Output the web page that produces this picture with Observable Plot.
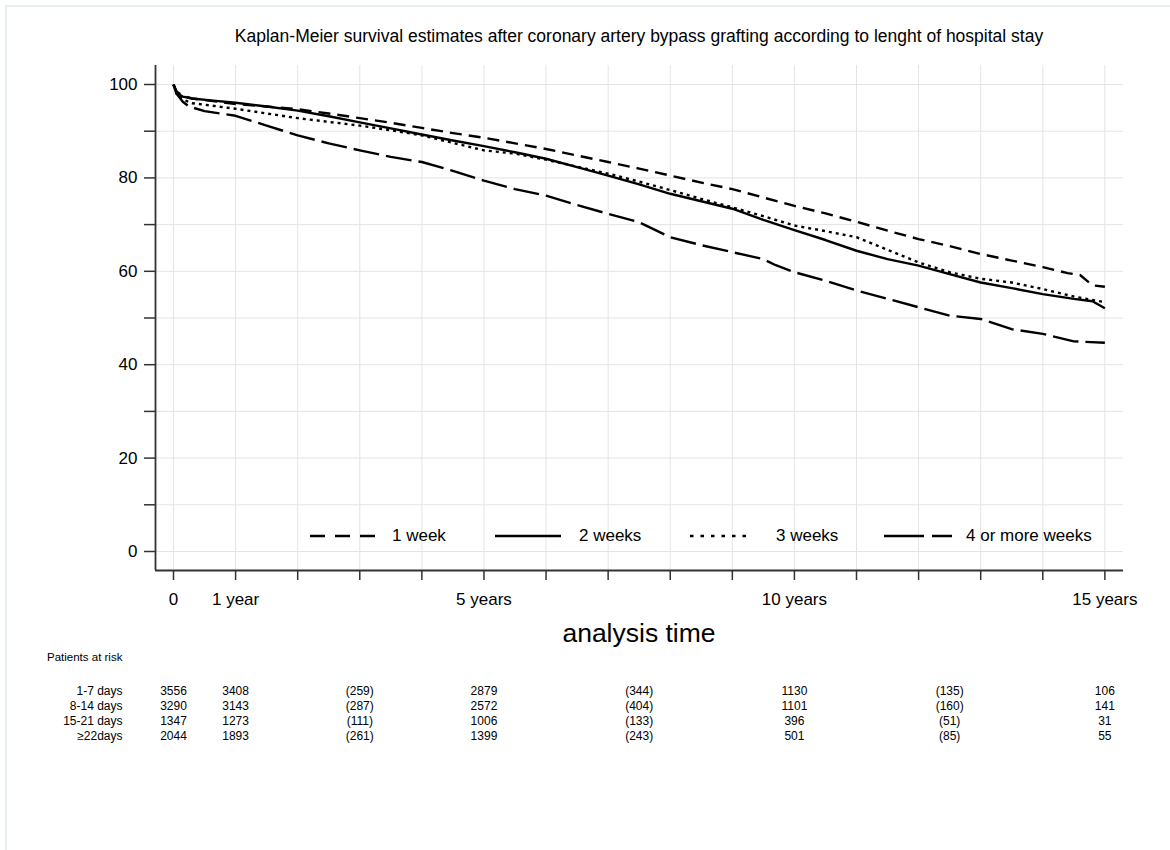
<!DOCTYPE html>
<html>
<head>
<meta charset="utf-8">
<script src="https://cdn.jsdelivr.net/npm/d3@7"></script>
<script src="https://cdn.jsdelivr.net/npm/@observablehq/plot@0.6"></script>
<style>
  body { margin: 0; background: #fff; font-family: "Liberation Sans", Arial, sans-serif; color: #000; }
  #page { position: relative; width: 1170px; height: 850px; overflow: hidden; }
  #border { position: absolute; left: 5px; top: 5px; width: 1200px; height: 900px; border-left: 2px solid #e6eef0; border-top: 2px solid #e6eef0; }
  .abs { position: absolute; white-space: nowrap; }
</style>
</head>
<body>
<div id="page">
  <div id="border"></div>
</div>
<script>
// ---------- Data ----------
const seriesNames = ["1 week", "2 weeks", "3 weeks", "4 or more weeks"];

const timeW1 = [0, 0.05, 0.15, 0.3, 0.6, 1, 1.5, 2, 2.5, 3, 3.5, 4, 4.5, 5, 5.5, 6, 6.5, 7, 7.5, 8, 8.5, 9, 9.5, 10, 10.5, 11, 11.5, 12, 12.5, 13, 13.5, 14, 14.4, 14.6, 14.8, 15];
const survW1 = [100, 98.5, 97.6, 97.0, 96.5, 95.8, 95.3, 94.7, 93.8, 92.8, 91.8, 90.7, 89.6, 88.6, 87.4, 86.2, 84.8, 83.4, 82.0, 80.5, 79.0, 77.6, 75.8, 74.0, 72.4, 70.6, 68.7, 66.9, 65.4, 63.7, 62.3, 60.9, 59.6, 59.2, 57.0, 56.7];

const timeW2 = [0, 0.05, 0.15, 0.3, 0.6, 1, 1.5, 2, 2.5, 3, 3.5, 4, 4.5, 5, 5.5, 6, 6.5, 7, 7.5, 8, 8.5, 9, 9.5, 10, 10.5, 11, 11.5, 12, 12.5, 13, 13.5, 14, 14.5, 14.8, 15];
const survW2 = [100, 98.3, 97.4, 97.0, 96.6, 96.1, 95.3, 94.4, 93.2, 91.9, 90.6, 89.3, 88.0, 86.8, 85.5, 84.1, 82.3, 80.5, 78.6, 76.6, 75.0, 73.4, 71.0, 68.8, 66.7, 64.4, 62.6, 61.2, 59.4, 57.6, 56.4, 55.1, 54.1, 53.6, 52.1];

const timeW3 = [0, 0.05, 0.15, 0.3, 0.6, 1, 1.5, 2, 2.5, 3, 3.5, 4, 4.5, 5, 5.5, 6, 6.5, 7, 7.5, 8, 8.5, 9, 9.5, 10, 10.5, 11, 11.5, 12, 12.5, 13, 13.5, 14, 14.5, 15];
const survW3 = [100, 98.0, 96.8, 96.0, 95.5, 94.8, 93.8, 92.8, 92.0, 91.2, 90.2, 89.1, 87.5, 85.9, 85.2, 83.9, 82.4, 80.9, 79.2, 77.4, 75.5, 73.7, 71.8, 69.8, 68.6, 67.3, 64.6, 61.9, 59.8, 58.4, 57.6, 56.2, 54.6, 53.4];

const timeW4 = [0, 0.05, 0.15, 0.25, 0.5, 1, 1.5, 2, 2.5, 3, 3.5, 4, 4.5, 5, 5.5, 6, 6.5, 7, 7.5, 8, 8.5, 9, 9.5, 9.7, 10, 10.5, 11, 11.5, 12, 12.5, 13, 13.5, 14, 14.5, 15];
const survW4 = [100, 98.0, 96.3, 95.3, 94.3, 93.3, 91.2, 89.1, 87.4, 85.9, 84.5, 83.4, 81.5, 79.4, 77.6, 76.2, 74.2, 72.3, 70.5, 67.3, 65.6, 64.1, 62.6, 61.3, 59.8, 58.0, 55.9, 54.1, 52.3, 50.5, 49.8, 47.6, 46.6, 45.0, 44.7];

const xTickValues = [0, 1, 2, 3, 4, 5, 6, 7, 8, 9, 10, 11, 12, 13, 14, 15];
const xTickLabels = {0: "0", 1: "1 year", 5: "5 years", 10: "10 years", 15: "15 years"};
const yTickValues = [0, 10, 20, 30, 40, 50, 60, 70, 80, 90, 100];
const yTickLabels = [0, 20, 40, 60, 80, 100];

// Patients at risk table
const riskGroups = ["1-7 days", "8-14 days", "15-21 days", "\u226522days"];
const riskTimes = [0, 1, 3, 5, 7.5, 10, 12.5, 15];
const risk1to7 = ["3556", "3408", "(259)", "2879", "(344)", "1130", "(135)", "106"];
const risk8to14 = ["3290", "3143", "(287)", "2572", "(404)", "1101", "(160)", "141"];
const risk15to21 = ["1347", "1273", "(111)", "1006", "(133)", "396", "(51)", "31"];
const risk22plus = ["2044", "1893", "(261)", "1399", "(243)", "501", "(85)", "55"];

// ---------- Build ----------
const page = document.getElementById("page");
const FONT = "'Liberation Sans', Arial, sans-serif";

const dashes = {"1 week": "12,7", "2 weeks": null, "3 weeks": "3,4", "4 or more weeks": "26,7"};
const series = [
  {name: seriesNames[0], t: timeW1, s: survW1},
  {name: seriesNames[1], t: timeW2, s: survW2},
  {name: seriesNames[2], t: timeW3, s: survW3},
  {name: seriesNames[3], t: timeW4, s: survW4}
];

const xDomain = [-0.29, 15.3];

// Title
const title = document.createElement("div");
title.className = "abs";
title.style.cssText = "left:155px;width:968px;top:26px;text-align:center;font-size:17.5px;line-height:20px;";
title.textContent = "Kaplan-Meier survival estimates after coronary artery bypass grafting according to lenght of hospital stay";
page.appendChild(title);

const lineMarks = series.map(sr => Plot.line(sr.t.map((t, i) => ({t, s: sr.s[i]})), {
  x: "t", y: "s", stroke: "#000", strokeWidth: 2.4,
  strokeDasharray: dashes[sr.name] || undefined,
  strokeLinecap: "butt", strokeLinejoin: "round"
}));

const chart = Plot.plot({
  width: 1170, height: 600,
  marginLeft: 155, marginRight: 47, marginTop: 15, marginBottom: 80,
  style: {fontFamily: FONT, color: "#000", background: "transparent"},
  x: {domain: xDomain},
  y: {domain: [-4.07, 104.07]},
  marks: [
    Plot.gridX(xTickValues, {stroke: "#e4e4e4", strokeOpacity: 1, strokeWidth: 1}),
    Plot.gridY(yTickValues, {stroke: "#e4e4e4", strokeOpacity: 1, strokeWidth: 1}),
    Plot.axisY(yTickValues, {tickSize: 11, tickPadding: 7, fontSize: 17, stroke: "#333", strokeWidth: 1.5,
      tickFormat: d => yTickLabels.includes(d) ? String(d) : "", label: null}),
    Plot.axisX(xTickValues, {tickSize: 10, tickPadding: 12, fontSize: 17, stroke: "#333", strokeWidth: 1.5,
      tickFormat: d => xTickLabels[d] ?? "", label: null}),
    Plot.ruleX([xDomain[0]], {stroke: "#333", strokeWidth: 1.8}),
    Plot.ruleY([-4.07], {stroke: "#333", strokeWidth: 1.8}),
    ...lineMarks
  ]
});
chart.style.position = "absolute";
chart.style.left = "0px";
chart.style.top = "50px";
page.appendChild(chart);

// Axis title
const xt = document.createElement("div");
xt.className = "abs";
xt.style.cssText = "left:155px;width:968px;top:618px;text-align:center;font-size:26.5px;line-height:30px;";
xt.textContent = "analysis time";
page.appendChild(xt);

// Legend (inside plot area)
const legendItems = [
  {name: seriesNames[0], x1: 310, x2: 377, tx: 392, dash: "15,10"},
  {name: seriesNames[1], x1: 495, x2: 561, tx: 579, dash: null},
  {name: seriesNames[2], x1: 690, x2: 753, tx: 776, dash: "3.5,7"},
  {name: seriesNames[3], x1: 884, x2: 952, tx: 966, dash: "40,8"}
];
legendItems.forEach(it => {
  const ns = "http://www.w3.org/2000/svg";
  const svg = document.createElementNS(ns, "svg");
  svg.setAttribute("width", it.x2 - it.x1);
  svg.setAttribute("height", 8);
  svg.style.cssText = `position:absolute;left:${it.x1}px;top:532px;`;
  const ln = document.createElementNS(ns, "line");
  ln.setAttribute("x1", 0); ln.setAttribute("x2", it.x2 - it.x1);
  ln.setAttribute("y1", 4); ln.setAttribute("y2", 4);
  ln.setAttribute("stroke", "#000"); ln.setAttribute("stroke-width", 2.6);
  if (it.dash) ln.setAttribute("stroke-dasharray", it.dash);
  svg.appendChild(ln);
  page.appendChild(svg);
  const tx = document.createElement("div");
  tx.className = "abs";
  tx.style.cssText = `left:${it.tx}px;top:526px;font-size:17px;line-height:20px;`;
  tx.textContent = it.name;
  page.appendChild(tx);
});

// Patients at risk header
const par = document.createElement("div");
par.className = "abs";
par.style.cssText = "left:47px;top:650px;font-size:11.5px;line-height:14px;";
par.textContent = "Patients at risk";
page.appendChild(par);

// Risk table via Plot, same x scale
const riskRows = [risk1to7, risk8to14, risk15to21, risk22plus];
const riskData = [];
riskRows.forEach((row, gi) => row.forEach((v, ti) => riskData.push({group: riskGroups[gi], t: riskTimes[ti], v})));

const table = Plot.plot({
  width: 1170, height: 70,
  marginLeft: 155, marginRight: 47, marginTop: 0, marginBottom: 0,
  style: {fontFamily: FONT, color: "#000", background: "transparent"},
  x: {domain: xDomain, axis: null},
  y: {type: "point", domain: riskGroups, range: [11, 56], padding: 0},
  marks: [
    Plot.axisY({tickSize: 0, tickPadding: 33, fontSize: 12, label: null}),
    Plot.text(riskData, {x: "t", y: "group", text: "v", fontSize: 12, fill: "#000"})
  ]
});
table.style.position = "absolute";
table.style.left = "0px";
table.style.top = "680px";
page.appendChild(table);
</script>
</body>
</html>
